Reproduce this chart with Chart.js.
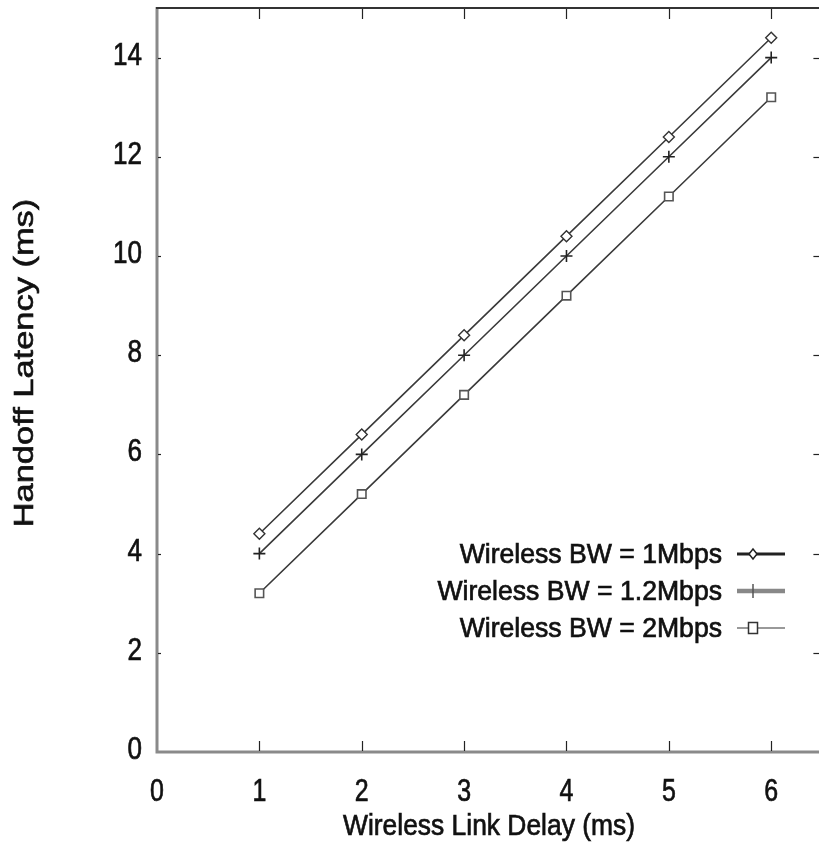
<!DOCTYPE html>
<html>
<head>
<meta charset="utf-8">
<script src="https://cdn.jsdelivr.net/npm/chart.js@4.4.1/dist/chart.umd.min.js"></script>
<style>
html,body{margin:0;padding:0;background:#fff;overflow:hidden;width:819px;height:849px;}
canvas{display:block;}
</style>
</head>
<body>
<canvas id="c" width="830" height="849"></canvas>
<script>
// ---- data ----
const delays = [1, 2, 3, 4, 5, 6];
const bw1 = [4.4, 6.4, 8.4, 10.4, 12.4, 14.4];
const bw12 = [4.0, 6.0, 8.0, 10.0, 12.0, 14.0];
const bw2 = [3.2, 5.2, 7.2, 9.2, 11.2, 13.2];
const seriesLabels = ['Wireless BW = 1Mbps', 'Wireless BW = 1.2Mbps', 'Wireless BW = 2Mbps'];
const xTicks = [0, 1, 2, 3, 4, 5, 6];
const yTicks = [0, 2, 4, 6, 8, 10, 12, 14];
const xTitle = 'Wireless Link Delay (ms)';
const yTitle = 'Handoff Latency (ms)';

const SANS = "'Liberation Sans', Arial, sans-serif";

function pts(ys) { return delays.map((d, i) => ({x: d, y: ys[i]})); }

const legendStyles = [
  {line: '#222', lw: 3, marker: 'diamond', mcol: '#222'},
  {line: '#888', lw: 4.5, marker: 'plus', mcol: '#555'},
  {line: '#777', lw: 1.6, marker: 'square', mcol: '#333'}
];

function drawMarker(ctx, type, x, y, col) {
  ctx.save();
  ctx.strokeStyle = col; ctx.lineWidth = 1.5;
  ctx.beginPath();
  if (type === 'diamond') {
    ctx.moveTo(x, y - 5); ctx.lineTo(x + 4, y); ctx.lineTo(x, y + 5); ctx.lineTo(x - 4, y); ctx.closePath();
    ctx.fillStyle = '#fff'; ctx.fill();
  } else if (type === 'plus') {
    ctx.moveTo(x, y - 7); ctx.lineTo(x, y + 7);
  } else {
    ctx.rect(x - 4.5, y - 5.5, 9, 11);
    ctx.fillStyle = '#fff'; ctx.fill();
  }
  ctx.stroke();
  ctx.restore();
}

function squeezedText(ctx, text, x, y, sx, align, baseline) {
  ctx.save();
  ctx.translate(x, y);
  ctx.scale(sx, 1);
  ctx.textAlign = align; ctx.textBaseline = baseline;
  ctx.fillText(text, 0, 0);
  ctx.lineWidth = 0.7; ctx.strokeStyle = ctx.fillStyle;
  ctx.strokeText(text, 0, 0);
  ctx.restore();
}

const framePlugin = {
  id: 'frame',
  afterDraw(chart) {
    const ctx = chart.ctx;
    const a = chart.chartArea;
    const xs = chart.scales.x, ys = chart.scales.y;
    ctx.save();
    // borders
    ctx.lineCap = 'butt';
    ctx.strokeStyle = '#8a8a8a'; ctx.lineWidth = 3;
    ctx.beginPath(); ctx.moveTo(a.left, a.top - 1); ctx.lineTo(a.left, a.bottom); ctx.lineTo(a.right, a.bottom); ctx.stroke();
    ctx.strokeStyle = '#333'; ctx.lineWidth = 2;
    ctx.beginPath(); ctx.moveTo(a.left - 1, a.top); ctx.lineTo(a.right, a.top); ctx.lineTo(a.right, a.bottom); ctx.stroke();
    // ticks
    ctx.strokeStyle = '#222'; ctx.lineWidth = 1.2;
    xTicks.forEach(v => {
      if (v === 0) return;
      const px = Math.round(xs.getPixelForValue(v)) + 0.5;
      ctx.beginPath(); ctx.moveTo(px, a.bottom - 1); ctx.lineTo(px, a.bottom - 11); ctx.stroke();
      ctx.beginPath(); ctx.moveTo(px, a.top + 1); ctx.lineTo(px, a.top + 11); ctx.stroke();
    });
    yTicks.forEach(v => {
      if (v === 0) return;
      const py = Math.round(ys.getPixelForValue(v)) + 0.5;
      ctx.beginPath(); ctx.moveTo(a.left + 1, py); ctx.lineTo(a.left + 4, py); ctx.stroke();
      ctx.beginPath(); ctx.moveTo(a.right - 1, py); ctx.lineTo(a.right - 9, py); ctx.stroke();
    });
    // tick labels
    ctx.fillStyle = '#111';
    ctx.font = '32px ' + SANS;
    xTicks.forEach(v => {
      squeezedText(ctx, String(v), xs.getPixelForValue(v), a.bottom + 49, 0.78, 'center', 'alphabetic');
    });
    ctx.font = '31px ' + SANS;
    yTicks.forEach(v => {
      squeezedText(ctx, String(v), a.left - 15, ys.getPixelForValue(v) + 7, 0.84, 'right', 'alphabetic');
    });
    // axis titles
    ctx.font = '30px ' + SANS;
    squeezedText(ctx, xTitle, 489, 835, 0.88, 'center', 'alphabetic');
    ctx.save();
    ctx.font = '28px ' + SANS;
    ctx.translate(33, 363);
    ctx.rotate(-Math.PI / 2);
    ctx.scale(1.23, 1);
    ctx.textAlign = 'center'; ctx.textBaseline = 'alphabetic';
    ctx.fillText(yTitle, 0, 0);
    ctx.lineWidth = 0.6; ctx.strokeStyle = '#111';
    ctx.strokeText(yTitle, 0, 0);
    ctx.restore();
    // legend
    const rowY = [554, 591, 628];
    ctx.font = '28px ' + SANS;
    chart.data.datasets.forEach((ds, i) => {
      const st = legendStyles[i];
      ctx.fillStyle = '#111';
      squeezedText(ctx, ds.label, 722, rowY[i] + 1, 0.95, 'right', 'middle');
      ctx.strokeStyle = st.line; ctx.lineWidth = st.lw;
      ctx.beginPath(); ctx.moveTo(737, rowY[i]); ctx.lineTo(785, rowY[i]); ctx.stroke();
      drawMarker(ctx, st.marker, 753, rowY[i], st.mcol);
    });
    ctx.restore();
  }
};

const lineCol = '#3a3a3a';
new Chart(document.getElementById('c'), {
  type: 'line',
  data: {
    datasets: [
      {label: seriesLabels[0], data: pts(bw1), borderColor: lineCol, borderWidth: 1.6, pointStyle: 'rectRot', pointRadius: 5.5, pointBorderColor: '#333', pointBackgroundColor: '#fff', pointBorderWidth: 1.4, tension: 0},
      {label: seriesLabels[1], data: pts(bw12), borderColor: lineCol, borderWidth: 1.6, pointStyle: 'cross', pointRadius: 6, pointBorderColor: '#222', pointBorderWidth: 1.6, tension: 0},
      {label: seriesLabels[2], data: pts(bw2), borderColor: lineCol, borderWidth: 1.6, pointStyle: 'rect', pointRadius: 6, pointBorderColor: '#555', pointBackgroundColor: '#fff', pointBorderWidth: 1.6, tension: 0}
    ]
  },
  options: {
    responsive: false,
    animation: false,
    layout: {padding: {top: 8, right: 6, left: 0, bottom: 0}},
    plugins: {legend: {display: false}, tooltip: {enabled: false}},
    scales: {
      x: {
        type: 'linear', min: 0, max: 6.5,
        grid: {display: false, drawTicks: false, tickLength: 0},
        border: {display: false},
        ticks: {display: false, stepSize: 1, includeBounds: false},
        afterFit(s) { s.height = 97; }
      },
      y: {
        type: 'linear', min: 0, max: 15,
        grid: {display: false, drawTicks: false, tickLength: 0},
        border: {display: false},
        ticks: {display: false, stepSize: 2, includeBounds: false},
        afterFit(s) { s.width = 157; }
      }
    }
  },
  plugins: [framePlugin]
});
</script>
</body>
</html>
